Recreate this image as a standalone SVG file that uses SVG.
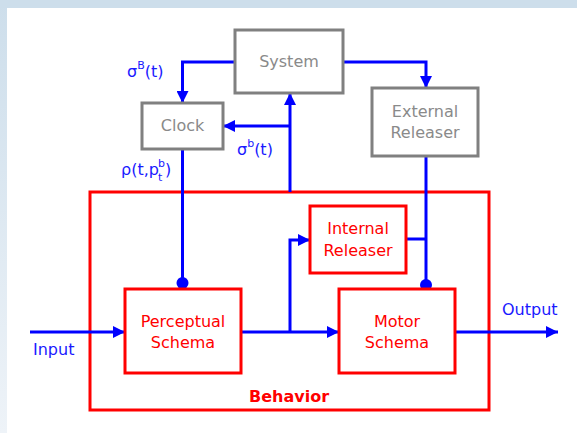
<svg xmlns="http://www.w3.org/2000/svg" width="577" height="433" viewBox="0 0 577 433">
<defs>
<linearGradient id="lg" x1="0" y1="0" x2="0" y2="1">
<stop offset="0" stop-color="#cddeeb"/>
<stop offset="1" stop-color="#eef3f8"/>
</linearGradient>
<marker id="ah" markerUnits="userSpaceOnUse" markerWidth="12" markerHeight="12" refX="12" refY="6" orient="auto">
<path d="M0,0 L12,6 L0,12 z" fill="#0000ff"/>
</marker>
</defs>
<style>
.g rect {fill:#fff; stroke:#808080; stroke-width:3}
.r rect {fill:#fff; stroke:#ff0000; stroke-width:3}
text {font-family:"DejaVu Sans", "Noto Sans", sans-serif; font-size:16px; text-anchor:middle}
.gt {fill:#8a8a8a}
.rt {fill:#ff0000}
.bl {fill:#1a1aff; text-anchor:start}
.c {stroke:#0000ff; stroke-width:3; fill:none}
.a {marker-end:url(#ah)}
.dot {fill:#0000ff}
</style>
<rect x="0" y="0" width="577" height="433" fill="#ffffff"/>
<rect x="0" y="0" width="7" height="433" fill="url(#lg)"/>
<rect x="0" y="0" width="577" height="8" fill="#cddeeb"/>

<g id="behavior">
<rect x="90" y="192" width="399" height="218" fill="none" stroke="#ff0000" stroke-width="3"/>
<text x="289" y="402" class="rt" font-weight="bold">Behavior</text>
</g>

<g id="connectors">
<path class="c a" d="M235,62 H182.5 V103"/>
<path class="c a" d="M343,62 H426 V88"/>
<path class="c a" d="M290,192 V93"/>
<path class="c a" d="M290,126 H223"/>
<path class="c" d="M182.5,149 V283"/>
<circle class="dot" cx="182.5" cy="283" r="6"/>
<path class="c" d="M426,156 V285"/>
<circle class="dot" cx="426" cy="285" r="6"/>
<path class="c" d="M406,239 H426" stroke-width="2"/>
<path class="c a" d="M30,332 H125"/>
<path class="c a" d="M241,332 H339"/>
<path class="c a" d="M290,332 V240 H310"/>
<path class="c a" d="M455,332 H558"/>
</g>

<g id="labels">
<text class="bl" x="127" y="77">σ<tspan font-size="11" dy="-8">B</tspan><tspan dy="8">(t)</tspan></text>
<text class="bl" x="237" y="155">σ<tspan font-size="11" dy="-8">b</tspan><tspan dy="8">(t)</tspan></text>
<text class="bl" x="121" y="175">ρ(t,p<tspan font-size="11" x="158" dy="-8">b</tspan><tspan font-size="11" x="158" dy="14">t</tspan><tspan x="165" dy="-6">)</tspan></text>
<text class="bl" x="33" y="355">Input</text>
<text class="bl" x="502" y="315">Output</text>
</g>

<g id="system" class="g">
<rect x="235" y="30" width="108" height="63"/>
<text x="289" y="67" class="gt">System</text>
</g>
<g id="clock" class="g">
<rect x="142" y="103" width="81" height="46"/>
<text x="182.5" y="131" class="gt">Clock</text>
</g>
<g id="external-releaser" class="g">
<rect x="372" y="88" width="106" height="68"/>
<text x="425" y="117" class="gt">External</text>
<text x="425" y="138" class="gt">Releaser</text>
</g>
<g id="internal-releaser" class="r">
<rect x="310" y="206" width="96" height="67"/>
<text x="358" y="234" class="rt">Internal</text>
<text x="358" y="256" class="rt">Releaser</text>
</g>
<g id="perceptual-schema" class="r">
<rect x="125" y="289" width="116" height="84"/>
<text x="183" y="327" class="rt">Perceptual</text>
<text x="183" y="348" class="rt">Schema</text>
</g>
<g id="motor-schema" class="r">
<rect x="339" y="289" width="116" height="84"/>
<text x="397" y="327" class="rt">Motor</text>
<text x="397" y="348" class="rt">Schema</text>
</g>
</svg>
